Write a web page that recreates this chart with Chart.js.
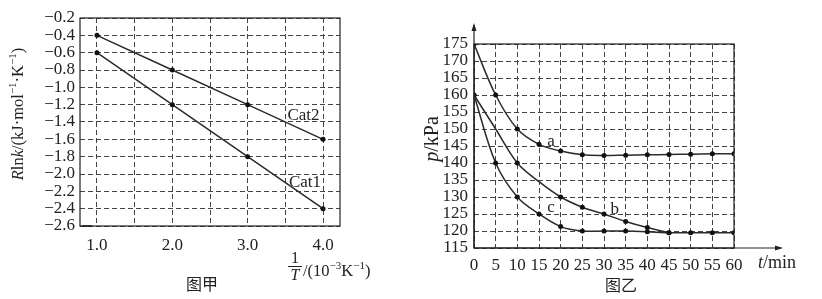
<!DOCTYPE html>
<html>
<head>
<meta charset="utf-8">
<script src="https://cdn.jsdelivr.net/npm/chart.js@4.4.0/dist/chart.umd.min.js"></script>
<style>
    html, body { margin: 0; padding: 0; background: #fff; }
    #wrap { position: relative; width: 822px; height: 299px; }
    canvas { position: absolute; top: 0; }
</style>
</head>
<body>
<div id="wrap">
    <canvas id="chart-jia" width="411" height="299" style="left:0"></canvas>
    <canvas id="chart-yi" width="411" height="299" style="left:411px"></canvas>
</div>
<script>
// ---- 图甲 data ----
const invT = [1.0, 2.0, 3.0, 4.0];
const cat1 = [-0.6, -1.2, -1.8, -2.4];
const cat2 = [-0.4, -0.8, -1.2, -1.6];
const invTTicks = [1.0, 1.5, 2.0, 2.5, 3.0, 3.5, 4.0];
const rlnkTicks = [-2.6, -2.4, -2.2, -2.0, -1.8, -1.6, -1.4, -1.2, -1.0, -0.8, -0.6, -0.4, -0.2];

// ---- 图乙 data ----
const times = [0, 5, 10, 15, 20, 25, 30, 35, 40, 45, 50, 55, 60];
const curveA = [175, 160, 150, 145.5, 143.5, 142.4, 142.2, 142.3, 142.4, 142.5, 142.6, 142.7, 142.7];
const curveB = [160, 150, 140, 134.5, 130, 127, 125, 122.8, 121, 119.5];
const curveC = [160, 140, 130, 125, 121.3, 120, 120, 120, 119.8, 119.5, 119.5, 119.5, 119.5];
const pressureTicks = [115, 120, 125, 130, 135, 140, 145, 150, 155, 160, 165, 170, 175];

const SERIF = '"Liberation Serif", "DejaVu Serif", serif';
const CJK = '"Noto Sans CJK SC", sans-serif';
const INK = '#222';
const GRID = '#444';

// draw a run of text pieces: {t, it (italic), sup}
function drawRich(ctx, parts, x, y, size, align) {
    const fontOf = p => (p.it ? 'italic ' : '') + (p.sup ? Math.round(size * 0.65) : size) + 'px ' + SERIF;
    let w = 0;
    parts.forEach(p => { ctx.font = fontOf(p); w += ctx.measureText(p.t).width; });
    let cx = align === 'center' ? x - w / 2 : x;
    ctx.textAlign = 'left';
    ctx.textBaseline = 'alphabetic';
    parts.forEach(p => {
        ctx.font = fontOf(p);
        ctx.fillText(p.t, cx, p.sup ? y - size * 0.4 : y);
        cx += ctx.measureText(p.t).width;
    });
}

function frame(ctx, area) {
    ctx.save();
    ctx.strokeStyle = INK;
    ctx.lineWidth = 1.2;
    ctx.setLineDash([]);
    ctx.strokeRect(area.left, area.top, area.right - area.left, area.bottom - area.top);
    ctx.restore();
}

const jiaExtras = {
    id: 'jiaExtras',
    afterDraw(chart) {
        const { ctx, chartArea: a, scales: { x, y } } = chart;
        frame(ctx, a);
        ctx.save();
        ctx.fillStyle = INK;
        ctx.strokeStyle = INK;
        // axis break zigzag
        ctx.lineWidth = 1;
        ctx.beginPath();
        ctx.moveTo(a.left + 2, a.bottom + 1);
        for (let i = 0; i < 5; i++) {
            ctx.lineTo(a.left + 3 + i * 2, a.bottom - 1);
            ctx.lineTo(a.left + 4 + i * 2, a.bottom + 1);
        }
        ctx.stroke();
        // series labels
        ctx.font = '17px ' + SERIF;
        ctx.textAlign = 'center';
        ctx.textBaseline = 'middle';
        ctx.fillText('Cat2', x.getPixelForValue(3.74), y.getPixelForValue(-1.32));
        ctx.fillText('Cat1', x.getPixelForValue(3.76), y.getPixelForValue(-2.10));
        // y title
        ctx.save();
        ctx.translate(17, 114);
        ctx.rotate(-Math.PI / 2);
        drawRich(ctx, [
            { t: 'R', it: true }, { t: 'ln' }, { t: 'k', it: true }, { t: '/(kJ·mol' },
            { t: '−1', sup: true }, { t: '·K' }, { t: '−1', sup: true }, { t: ')' }
        ], 0, 6, 16.5, 'center');
        ctx.restore();
        // x title: 1/T /(10^-3 K^-1)
        ctx.font = '16px ' + SERIF;
        ctx.textAlign = 'center';
        ctx.textBaseline = 'alphabetic';
        ctx.fillText('1', 295, 263);
        ctx.lineWidth = 1;
        ctx.beginPath();
        ctx.moveTo(288, 266.5);
        ctx.lineTo(302, 266.5);
        ctx.stroke();
        ctx.font = 'italic 16px ' + SERIF;
        ctx.fillText('T', 295, 280);
        drawRich(ctx, [
            { t: '/(10' }, { t: '−3', sup: true }, { t: 'K' }, { t: '−1', sup: true }, { t: ')' }
        ], 303, 276, 16.5, 'left');
        // caption
        ctx.font = '16px ' + CJK;
        ctx.textAlign = 'center';
        ctx.textBaseline = 'middle';
        ctx.fillText('图甲', 202, 284);
        ctx.restore();
    }
};

const yiExtras = {
    id: 'yiExtras',
    afterDraw(chart) {
        const { ctx, chartArea: a, scales: { x, y } } = chart;
        frame(ctx, a);
        ctx.save();
        ctx.fillStyle = INK;
        ctx.strokeStyle = INK;
        ctx.lineWidth = 1.2;
        // arrow axes
        ctx.beginPath();
        ctx.moveTo(a.left, a.bottom);
        ctx.lineTo(a.left, 25);
        ctx.moveTo(a.left, a.bottom);
        ctx.lineTo(370, a.bottom);
        ctx.stroke();
        ctx.beginPath();
        ctx.moveTo(a.left, 23);
        ctx.lineTo(a.left - 2.5, 31);
        ctx.lineTo(a.left + 2.5, 31);
        ctx.closePath();
        ctx.moveTo(372, a.bottom);
        ctx.lineTo(364, a.bottom - 2.5);
        ctx.lineTo(364, a.bottom + 2.5);
        ctx.closePath();
        ctx.fill();
        // curve labels
        ctx.font = '17px ' + SERIF;
        ctx.textAlign = 'center';
        ctx.textBaseline = 'middle';
        ctx.fillText('a', x.getPixelForValue(17.8), y.getPixelForValue(146.3));
        ctx.fillText('b', x.getPixelForValue(32.5), y.getPixelForValue(126.4));
        ctx.fillText('c', x.getPixelForValue(17.8), y.getPixelForValue(127));
        // y title
        ctx.save();
        ctx.translate(21, 139);
        ctx.rotate(-Math.PI / 2);
        drawRich(ctx, [{ t: 'p', it: true }, { t: '/kPa' }], 0, 6, 20, 'center');
        ctx.restore();
        // x title
        drawRich(ctx, [{ t: 't', it: true }, { t: '/min' }], 347, 268, 18, 'left');
        // caption
        ctx.font = '16px ' + CJK;
        ctx.textAlign = 'center';
        ctx.textBaseline = 'middle';
        ctx.fillText('图乙', 210, 285);
        ctx.restore();
    }
};

function lineSet(xs, ys, radius) {
    return {
        data: ys.map((v, i) => ({ x: xs[i], y: v })),
        borderColor: '#2b2b2b',
        borderWidth: 1.5,
        pointRadius: radius,
        pointBackgroundColor: '#111',
        pointBorderWidth: 0,
        fill: false
    };
}

const axisCommon = (size) => ({
    type: 'linear',
    grid: { color: GRID, lineWidth: 1, drawTicks: false },
    border: { display: false, dash: [5, 3] },
    ticks: { color: INK, font: { family: SERIF, size: size }, autoSkip: false, maxRotation: 0 }
});

// ---- 图甲 ----
const jiaX = axisCommon(17);
jiaX.min = 0.775; jiaX.max = 4.225;
jiaX.afterBuildTicks = s => { s.ticks = invTTicks.map(v => ({ value: v })); };
jiaX.ticks.callback = v => Number.isInteger(v) ? v.toFixed(1) : '';
jiaX.ticks.padding = 9;
jiaX.afterFit = s => { s.height = 73; };

const jiaY = axisCommon(17);
jiaY.min = -2.6; jiaY.max = -0.2;
jiaY.afterBuildTicks = s => { s.ticks = rlnkTicks.map(v => ({ value: v })); };
jiaY.ticks.callback = v => (v < 0 ? '−' : '') + Math.abs(v).toFixed(1);
jiaY.ticks.padding = 5;
jiaY.afterFit = s => { s.width = 80; };

new Chart(document.getElementById('chart-jia'), {
    type: 'line',
    data: {
        datasets: [
            Object.assign(lineSet(invT, cat2, 2.5), { label: 'Cat2', tension: 0 }),
            Object.assign(lineSet(invT, cat1, 2.5), { label: 'Cat1', tension: 0 })
        ]
    },
    options: {
        responsive: false,
        animation: false,
        layout: { padding: { left: 0, right: 71, top: 18, bottom: 0 } },
        plugins: { legend: { display: false }, tooltip: { enabled: false } },
        scales: { x: jiaX, y: jiaY }
    },
    plugins: [jiaExtras]
});

// ---- 图乙 ----
const yiX = axisCommon(17);
yiX.min = 0; yiX.max = 60;
yiX.afterBuildTicks = s => { s.ticks = times.map(v => ({ value: v })); };
yiX.ticks.padding = 7;
yiX.afterFit = s => { s.height = 51; };

const yiY = axisCommon(17);
yiY.min = 115; yiY.max = 175;
yiY.afterBuildTicks = s => { s.ticks = pressureTicks.map(v => ({ value: v })); };
yiY.ticks.padding = 6;
yiY.afterFit = s => { s.width = 63; };

const dotsB = [2.5, 0, 2.5, 0, 2.5, 2.5, 2.5, 2.5, 2.5, 2.5];

new Chart(document.getElementById('chart-yi'), {
    type: 'line',
    data: {
        datasets: [
            Object.assign(lineSet(times, curveA, 2.5), { label: 'a', tension: 0.35 }),
            Object.assign(lineSet(times, curveB, dotsB), { label: 'b', tension: 0.35 }),
            Object.assign(lineSet(times, curveC, 2.5), { label: 'c', tension: 0.35 })
        ]
    },
    options: {
        responsive: false,
        animation: false,
        layout: { padding: { left: 0, right: 88, top: 44, bottom: 0 } },
        plugins: { legend: { display: false }, tooltip: { enabled: false } },
        scales: { x: yiX, y: yiY }
    },
    plugins: [yiExtras]
});
</script>
</body>
</html>
